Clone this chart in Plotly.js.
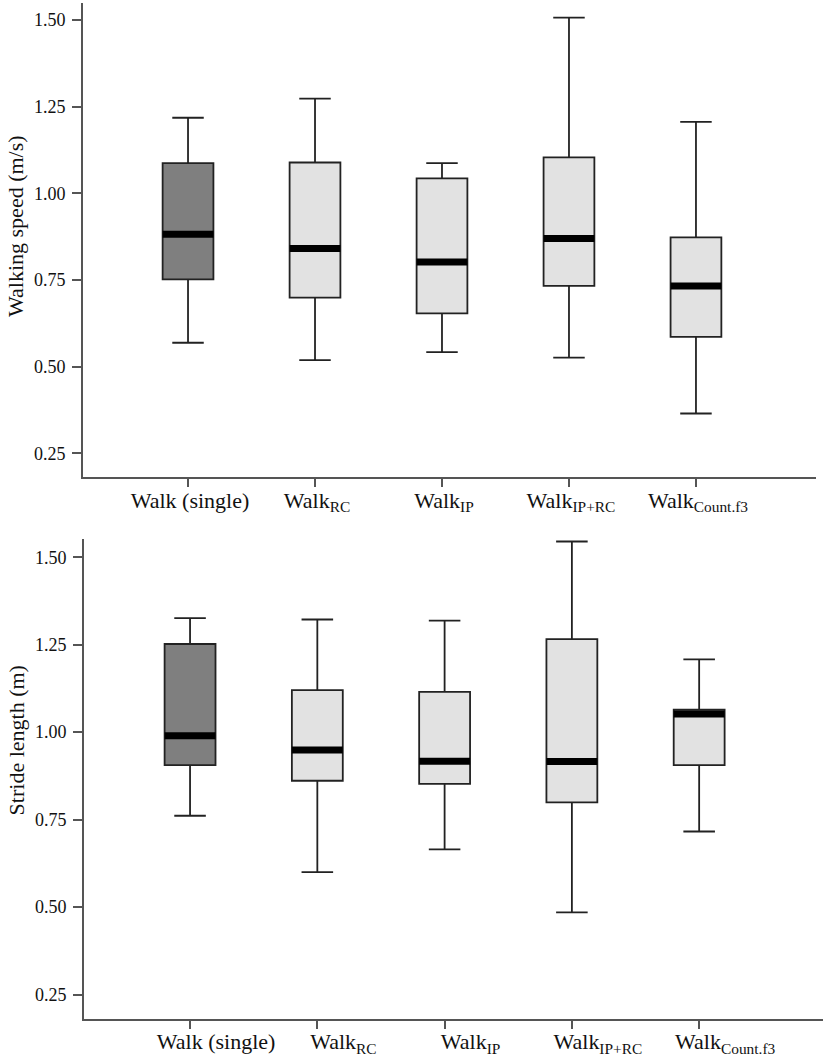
<!DOCTYPE html>
<html>
<head>
<meta charset="utf-8">
<script src="https://cdn.plot.ly/plotly-3.0.1.min.js"></script>
<style>
  body { margin: 0; background: #fff; }
  #plotZone { width: 827px; height: 1058px; }
</style>
</head>
<body>
<div id="plotZone"></div>
<script>
// group labels (x axis)
var categories = ['Walk (single)', 'Walk<sub>RC</sub>', 'Walk<sub>IP</sub>', 'Walk<sub>IP+RC</sub>', 'Walk<sub>Count.f3</sub>'];

// walking speed (m/s)
var speedHigh = [1.218, 1.273, 1.087, 1.507, 1.206];
var speedQ3   = [1.087, 1.089, 1.043, 1.104, 0.873];
var speedMed  = [0.882, 0.841, 0.802, 0.870, 0.733];
var speedQ1   = [0.752, 0.699, 0.654, 0.733, 0.586];
var speedLow  = [0.569, 0.519, 0.542, 0.526, 0.365];

// stride length (m), bottom panel
var strideHigh = [1.326, 1.322, 1.319, 1.545, 1.208];
var strideQ3   = [1.252, 1.120, 1.115, 1.266, 1.064];
var strideMed  = [0.990, 0.949, 0.917, 0.916, 1.052];
var strideQ1   = [0.906, 0.861, 0.852, 0.799, 0.906];
var strideLow  = [0.761, 0.600, 0.665, 0.485, 0.716];

var yTicks = [0.25, 0.50, 0.75, 1.00, 1.25, 1.50];

var darkFill = '#7f7f7f';
var lightFill = '#e2e2e2';

function boxTraces(low, q1, med, q3, high, xa, ya){
    var out = [];
    for(let i=0;i<categories.length;i++){
        out.push({
            type: 'box',
            x: [i],
            lowerfence: [low[i]],
            q1: [q1[i]],
            median: [med[i]],
            q3: [q3[i]],
            upperfence: [high[i]],
            width: 0.4,
            whiskerwidth: 0.62,
            boxpoints: false,
            fillcolor: i===0 ? darkFill : lightFill,
            line: {color: '#222', width: 1.8},
            xaxis: xa, yaxis: ya,
            hoverinfo: 'skip'
        });
    }
    // thick median bars on top
    var mx = [], my = [];
    for(let i=0;i<med.length;i++){
        mx.push(i-0.2, i+0.2, null);
        my.push(med[i], med[i], null);
    }
    out.push({
        type: 'scatter', mode: 'lines',
        x: mx, y: my,
        line: {color: '#000', width: 7},
        xaxis: xa, yaxis: ya,
        hoverinfo: 'skip'
    });
    return out;
}

var data = boxTraces(speedLow, speedQ1, speedMed, speedQ3, speedHigh, 'x', 'y')
    .concat(boxTraces(strideLow, strideQ1, strideMed, strideQ3, strideHigh, 'x2', 'y2'));

var axisColor = '#555';
var serif = 'Liberation Serif, DejaVu Serif, Times New Roman, Times, serif';

function xAxis(domain, range, anchor, shift){
    return {
        domain: domain, range: range, anchor: anchor,
        tickmode: 'array',
        tickvals: categories.map(function(c, i){ return i; }),
        ticktext: categories,
        ticks: 'outside', ticklen: 8, tickwidth: 2, tickcolor: axisColor,
        showline: true, linecolor: axisColor, linewidth: 2,
        showgrid: false, zeroline: false,
        tickfont: {family: serif, size: 22, color: '#111'},
        ticklabelshift: shift,
        ticklabelstandoff: -6,
        fixedrange: true
    };
}
function yAxis(domain, range, anchor){
    return {
        domain: domain, range: range, anchor: anchor,
        tickmode: 'array', tickvals: yTicks,
        tickformat: '.2f',
        ticks: 'outside', ticklen: 9, tickwidth: 2, tickcolor: axisColor,
        showline: true, linecolor: axisColor, linewidth: 2,
        showgrid: false, zeroline: false,
        tickfont: {family: serif, size: 18, color: '#111'},
        ticklabelstandoff: 3,
        fixedrange: true
    };
}

var layout = {
    width: 827, height: 1058,
    margin: {l: 83, r: 4, t: 3, b: 39},
    paper_bgcolor: '#fff', plot_bgcolor: '#fff',
    font: {family: serif, size: 18, color: '#111'},
    showlegend: false,
    hovermode: false,
    boxmode: 'overlay',
    xaxis: xAxis([0, 0.9905], [-0.827, 4.945], 'y', 2),
    yaxis: yAxis([0.5332, 1], [0.181, 1.549], 'x'),
    xaxis2: xAxis([0.0014, 1], [-0.833, 4.973], 'y2', 26),
    yaxis2: yAxis([0, 0.4724], [0.180, 1.552], 'x2'),
    annotations: [
        {text: 'Walking speed (m/s)', xref: 'paper', yref: 'paper', x: -0.092, y: 0.7805,
         textangle: -90, showarrow: false, xanchor: 'center', yanchor: 'middle',
         font: {family: serif, size: 22, color: '#111'}},
        {text: 'Stride length (m)', xref: 'paper', yref: 'paper', x: -0.090, y: 0.2746,
         textangle: -90, showarrow: false, xanchor: 'center', yanchor: 'middle',
         font: {family: serif, size: 22, color: '#111'}}
    ]
};

Plotly.newPlot('plotZone', data, layout, {staticPlot: true, displayModeBar: false});
</script>
</body>
</html>
